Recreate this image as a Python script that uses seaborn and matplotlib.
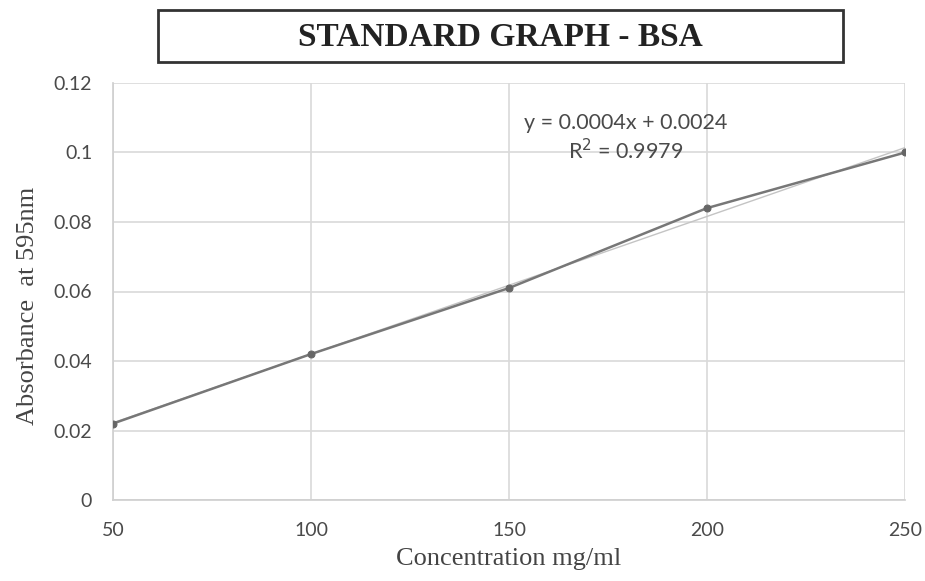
import numpy as np
import pandas as pd
import matplotlib
matplotlib.use("Agg")
import matplotlib.pyplot as plt
from matplotlib.patches import Rectangle
import seaborn as sns

concentration = [50, 100, 150, 200, 250]
absorbance = [0.022, 0.042, 0.061, 0.084, 0.100]
y_ticks = [0, 0.02, 0.04, 0.06, 0.08, 0.1, 0.12]
y_tick_labels = ["0", "0.02", "0.04", "0.06", "0.08", "0.1", "0.12"]
x_ticks = [50, 100, 150, 200, 250]
title_text = "STANDARD GRAPH - BSA"
x_label = "Concentration mg/ml"
y_label = "Absorbance  at 595nm"
equation_text = "y = 0.0004x + 0.0024"
r2_text = "R$^2$ = 0.9979"

df = pd.DataFrame({"conc": concentration, "abs": absorbance})

sns.set_theme(style="white")
fig = plt.figure(figsize=(9.25, 5.81), dpi=100)
ax = fig.add_axes([113/925, 1-500/581, (905-113)/925, (500-83)/581])

# trendline (linear fit)
sns.regplot(data=df, x="conc", y="abs", ax=ax, ci=None, scatter=False,
            line_kws=dict(color="#c4c4c4", lw=1.0, zorder=2), truncate=True)
# data line with markers
sns.lineplot(data=df, x="conc", y="abs", ax=ax, color="#777777", lw=1.8,
             marker="o", markersize=5, markerfacecolor="#666666",
             markeredgecolor="#666666", zorder=3)

ax.set_xlim(50, 250)
ax.set_ylim(0, 0.12)
ax.set_xticks(x_ticks)
ax.set_yticks(y_ticks)
ax.set_yticklabels(y_tick_labels)
ax.grid(True, color="#d9d9d9", lw=1.2)
for s in ax.spines.values():
    s.set_visible(False)
ax.spines["bottom"].set_visible(True)
ax.spines["bottom"].set_color("#d0d0d0")
ax.spines["left"].set_visible(True)
ax.spines["left"].set_color("#d0d0d0")
ax.tick_params(axis="both", length=0, labelsize=14, labelcolor="#4a4a4a")
ax.tick_params(axis="x", pad=16)
ax.tick_params(axis="y", pad=15)
for lab in ax.get_xticklabels() + ax.get_yticklabels():
    lab.set_family("Lato")

ax.set_xlabel(x_label, family="Liberation Serif", fontsize=19, color="#444444", labelpad=6)
ax.set_ylabel(y_label, family="Liberation Serif", fontsize=19, color="#444444")
ax.yaxis.set_label_coords(-0.094, 0.465)

ax.text(179.5, 0.1085, equation_text, ha="center", va="center", fontsize=15.5,
        family="Lato", color="#4a4a4a")
ax.text(179.5, 0.1005, r2_text, ha="center", va="center", fontsize=15.5,
        family="Lato", color="#4a4a4a")

# title box
rect = Rectangle((158/925, 1-62/581), (843-158)/925, (62-10)/581,
                 transform=fig.transFigure, facecolor="white",
                 edgecolor="#333333", lw=2)
fig.add_artist(rect)
fig.text(500/925, 1-38/581, title_text, ha="center", va="center",
         family="Liberation Serif", fontweight="bold", fontsize=24, color="#222222")

fig.savefig("out.png", dpi=100, facecolor="white")
